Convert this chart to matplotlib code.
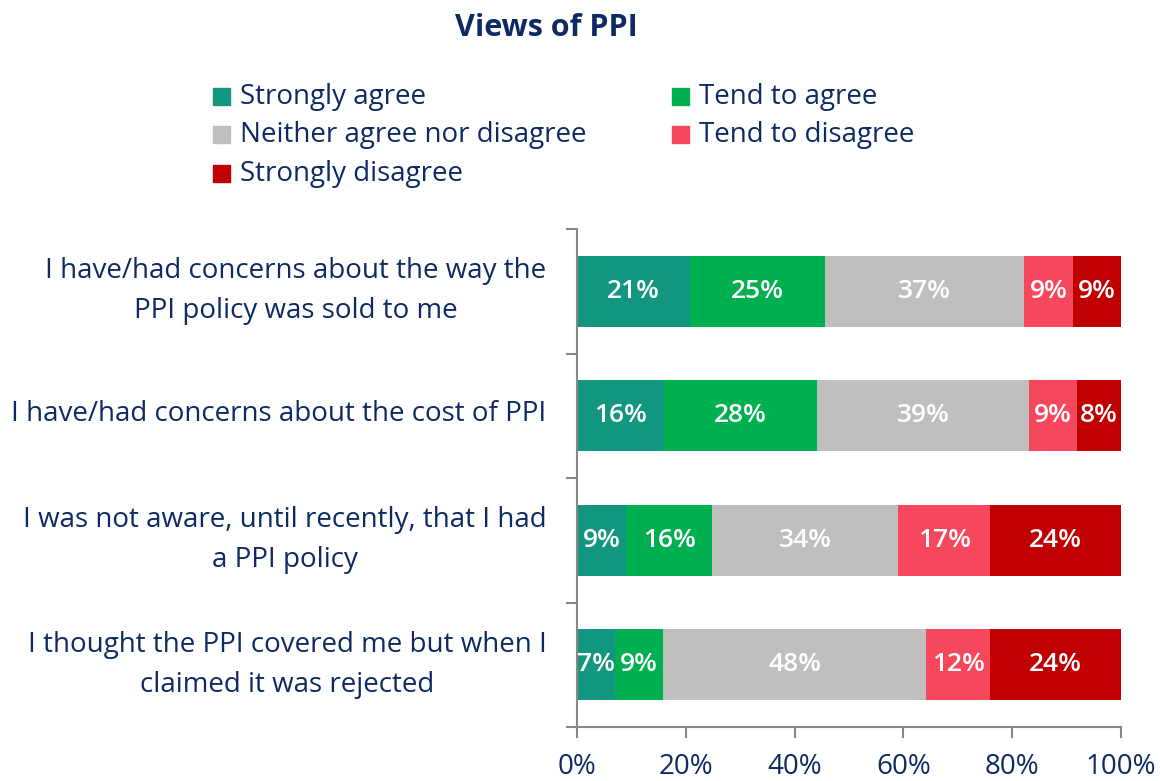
import matplotlib
matplotlib.use("Agg")
import matplotlib.pyplot as plt
import numpy as np

categories = [
    "I have/had concerns about the way the\nPPI policy was sold to me",
    "I have/had concerns about the cost of PPI",
    "I was not aware, until recently, that I had\na PPI policy",
    "I thought the PPI covered me but when I\nclaimed it was rejected",
]
series_names = ["Strongly agree", "Tend to agree", "Neither agree nor disagree",
                "Tend to disagree", "Strongly disagree"]
strongly_agree = [20.7, 16.0, 9.0, 7.0]
tend_agree = [24.8, 28.1, 15.9, 8.9]
neither = [36.7, 39.0, 34.1, 48.2]
tend_disagree = [9.0, 8.9, 17.0, 11.9]
strongly_disagree = [8.8, 8.0, 24.0, 24.0]
xtick_labels = ["0%", "20%", "40%", "60%", "80%", "100%"]

colors = ["#139680", "#00B050", "#BFBFBF", "#F7475D", "#C00000"]
navy = "#0D2A63"
font = "Open Sans"
plt.rcParams['font.family'] = [font, 'DejaVu Sans']

fig = plt.figure(figsize=(11.6, 7.81), dpi=100)
ax = fig.add_axes([577/1160, 1-727/781, (1121-577)/1160, (727-229)/781])

series = [strongly_agree, tend_agree, neither, tend_disagree, strongly_disagree]
y = np.arange(len(categories))
left = np.zeros(len(categories))
for name, vals, c in zip(series_names, series, colors):
    vals = np.array(vals)
    ax.barh(y, vals, left=left, color=c, height=0.57, edgecolor="none")
    for yi, l, v in zip(y, left, vals):
        ax.text(l + v/2, yi, f"{round(v):d}%", ha="center", va="center",
                color="white", fontsize=19, fontweight="semibold")
    left = left + vals

ax.set_xlim(0, 100)
ax.set_ylim(len(categories)-0.5, -0.5)
ax.set_xticks(np.linspace(0, 100, 6))
ax.set_xticklabels(xtick_labels, fontsize=20, color=navy)
ax.set_yticks(y)
ax.set_yticklabels([])
ax.tick_params(axis="y", which="major", length=0)
for yi, cat in zip(y, categories):
    shift = 0 if "\n" in cat else 1.5
    ax.annotate(cat, xy=(0, yi), xycoords=("axes fraction", "data"),
                xytext=(-22, shift), textcoords="offset points",
                ha="right", va="center", multialignment="center",
                linespacing=1.55, fontsize=20, color=navy)
ax.set_yticks(np.arange(-0.5, len(categories)), minor=True)
ax.tick_params(axis="y", which="minor", length=8, color="#888888", width=1.5)
ax.tick_params(axis="x", length=8, color="#888888", width=1.5, pad=11)
for s in ["top", "right"]:
    ax.spines[s].set_visible(False)
for s in ["left", "bottom"]:
    ax.spines[s].set_color("#888888")
    ax.spines[s].set_linewidth(1.5)

fig.text(546/1160, 1-28/781, "Views of PPI", ha="center", va="center",
         fontsize=22, fontweight="bold", color=navy)

leg_pos = [(213, 97), (672, 97), (213, 135), (672, 135), (213, 174)]
for (px, py), name, c in zip(leg_pos, series_names, colors):
    fig.patches.append(plt.Rectangle((px/1160, 1-(py+8)/781), 17/1160, 17/781,
                                     transform=fig.transFigure, color=c))
    fig.text((px+27)/1160, 1-py/781, name, ha="left", va="center",
             fontsize=20, color=navy)

fig.savefig("out.png", dpi=100)
